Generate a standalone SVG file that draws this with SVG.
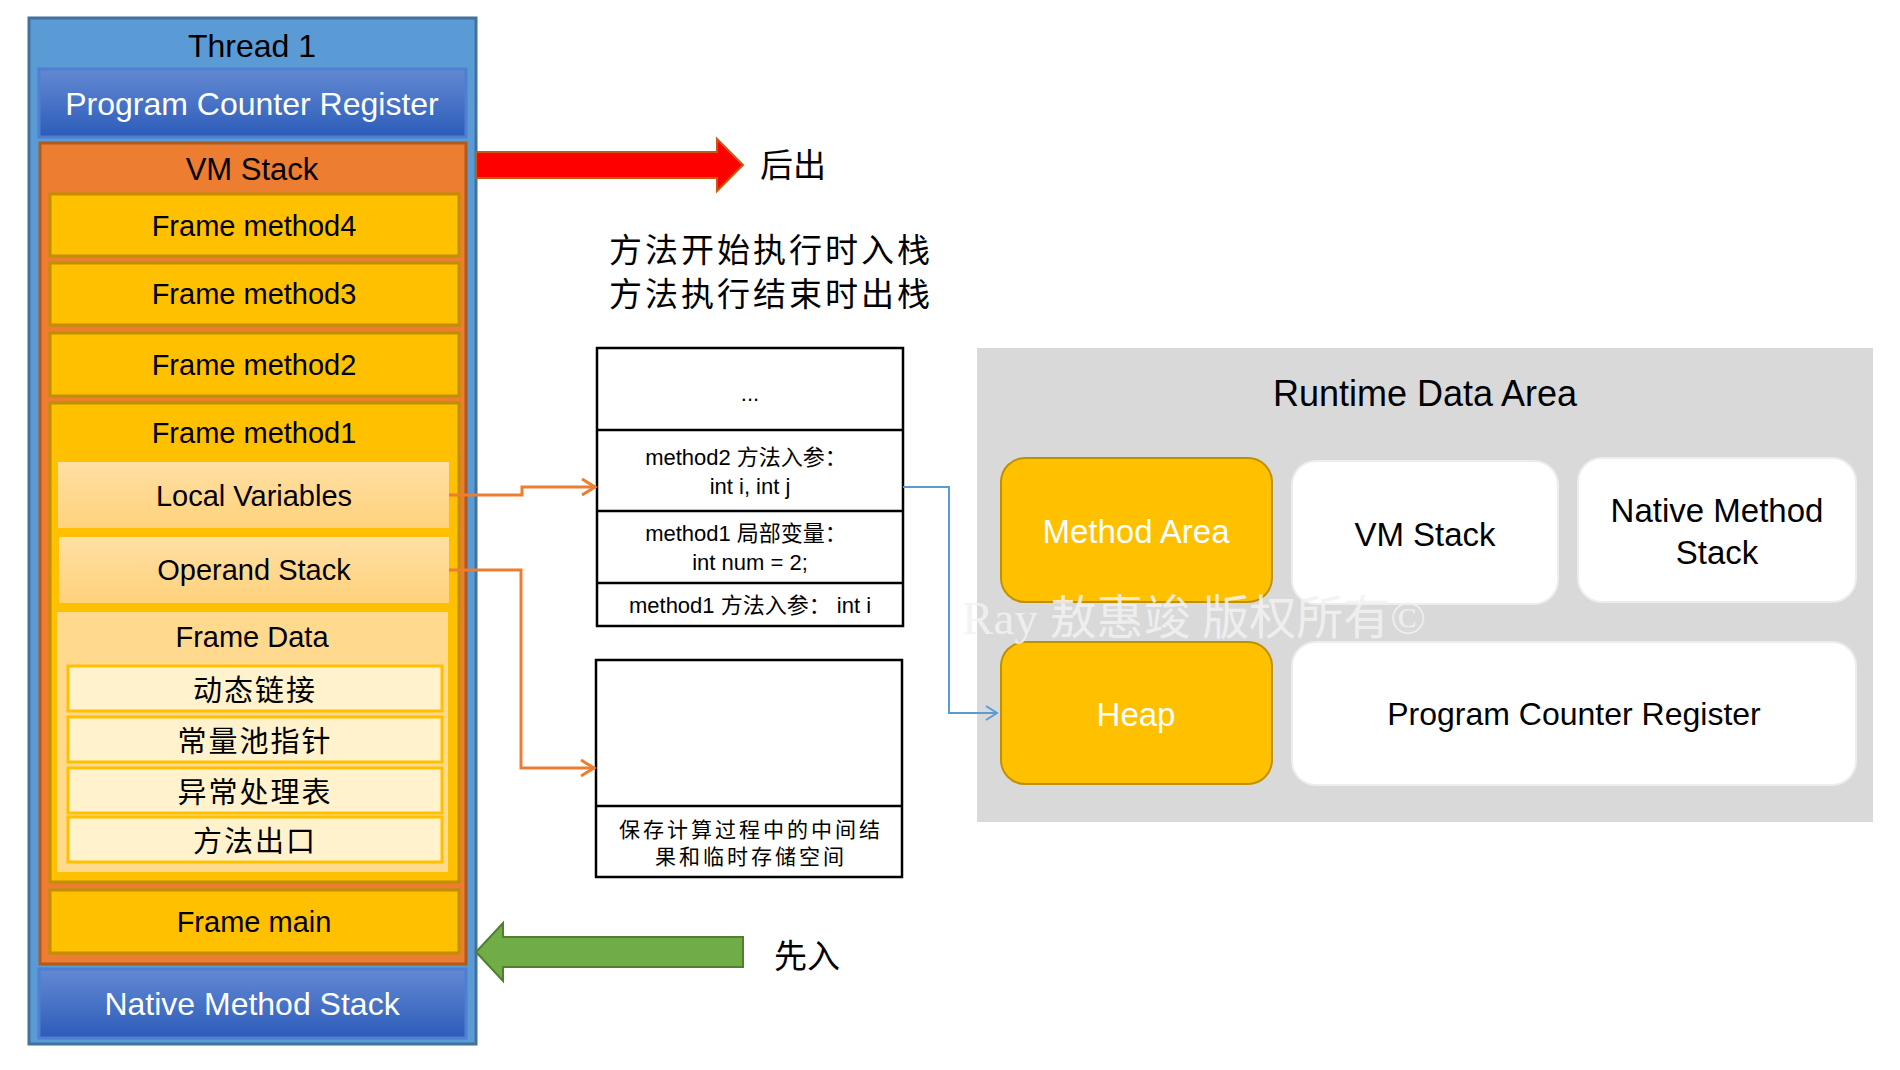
<svg xmlns="http://www.w3.org/2000/svg" width="1900" height="1070" viewBox="0 0 1900 1070">
<defs>
<linearGradient id="gBlue" x1="0" y1="0" x2="0" y2="1">
<stop offset="0" stop-color="#6389D3"/><stop offset="1" stop-color="#2C5CB9"/>
</linearGradient>
<linearGradient id="gLight" x1="0" y1="0" x2="0" y2="1">
<stop offset="0" stop-color="#FFDFA4"/><stop offset="1" stop-color="#FFD27C"/>
</linearGradient>
<marker id="arrO" markerUnits="userSpaceOnUse" markerWidth="20" markerHeight="20" refX="15" refY="9" orient="auto">
<path d="M2,1 L15,9 L2,17" fill="none" stroke="#ED7D31" stroke-width="3"/>
</marker>
<marker id="arrB" markerUnits="userSpaceOnUse" markerWidth="20" markerHeight="20" refX="14" refY="9" orient="auto">
<path d="M3,2 L14,9 L3,16" fill="none" stroke="#5B9BD5" stroke-width="2"/>
</marker>
<style>
.lat{font-family:"Liberation Sans",Arial,sans-serif;}
.cjk{font-family:"Noto Sans CJK SC",sans-serif;}
.mix{font-family:"Liberation Sans","Noto Sans CJK SC",sans-serif;}
text{text-anchor:middle;dominant-baseline:central;}
.frame{fill:#FFC000;stroke:#BF9000;stroke-width:3;}
.item{fill:#FFF2CC;stroke:#FFC000;stroke-width:3;}
.cell{fill:#FFFFFF;stroke:#000000;stroke-width:2.5;}
.rda-y{fill:#FFC000;stroke:#BF9000;stroke-width:2;}
.rda-w{fill:#FFFFFF;stroke:#EDEDED;stroke-width:2;}
.conO{fill:none;stroke:#ED7D31;stroke-width:3;}
.conB{fill:none;stroke:#5B9BD5;stroke-width:2;}
</style>
</defs>
<rect width="1900" height="1070" fill="#FFFFFF"/>

<g id="thread1">
<rect x="29" y="18" width="447" height="1026" fill="#5B9BD5" stroke="#41719C" stroke-width="3"/>
<text class="lat" x="252" y="46" font-size="32" fill="#000">Thread 1</text>
</g>
<g id="pc-register-left">
<rect x="39" y="69" width="427" height="68" fill="url(#gBlue)" stroke="#4F7FD0" stroke-width="3"/>
<text class="lat" x="252" y="104" font-size="32" fill="#FFFFFF">Program Counter Register</text>
</g>
<g id="vm-stack">
<rect x="40" y="143" width="426" height="821" fill="#ED7D31" stroke="#AE5A21" stroke-width="3"/>
<text class="lat" x="252" y="169" font-size="31" fill="#000">VM Stack</text>
</g>
<g id="frame-method4">
<rect class="frame" x="50" y="194" width="409" height="62"/>
<text class="lat" x="254" y="226" font-size="29">Frame method4</text>
</g>
<g id="frame-method3">
<rect class="frame" x="50" y="263" width="409" height="62"/>
<text class="lat" x="254" y="294" font-size="29">Frame method3</text>
</g>
<g id="frame-method2">
<rect class="frame" x="50" y="333" width="409" height="63"/>
<text class="lat" x="254" y="365" font-size="29">Frame method2</text>
</g>
<g id="frame-method1">
<rect class="frame" x="50" y="403" width="409" height="479"/>
<text class="lat" x="254" y="433" font-size="29">Frame method1</text>
</g>
<g id="local-variables">
<rect x="58" y="462" width="391" height="66" fill="url(#gLight)"/>
<text class="lat" x="254" y="496" font-size="29">Local Variables</text>
</g>
<g id="operand-stack">
<rect x="59" y="537" width="390" height="66" fill="url(#gLight)"/>
<text class="lat" x="254" y="570" font-size="29">Operand Stack</text>
</g>
<g id="frame-data">
<rect x="57" y="612" width="391" height="260" fill="#FFD98E"/>
<text class="lat" x="252" y="637" font-size="29">Frame Data</text>
</g>
<g id="dynamic-link">
<rect class="item" x="68" y="666" width="374" height="45"/>
<text class="cjk" x="255" y="688" font-size="29" letter-spacing="2">动态链接</text>
</g>
<g id="constant-pool-pointer">
<rect class="item" x="68" y="717" width="374" height="45"/>
<text class="cjk" x="255" y="739" font-size="29" letter-spacing="2">常量池指针</text>
</g>
<g id="exception-table">
<rect class="item" x="68" y="768" width="374" height="45"/>
<text class="cjk" x="255" y="790" font-size="29" letter-spacing="2">异常处理表</text>
</g>
<g id="method-exit">
<rect class="item" x="68" y="817" width="374" height="45"/>
<text class="cjk" x="255" y="839" font-size="29" letter-spacing="2">方法出口</text>
</g>
<g id="frame-main">
<rect class="frame" x="50" y="890" width="409" height="63"/>
<text class="lat" x="254" y="922" font-size="29">Frame main</text>
</g>
<g id="native-method-stack-left">
<rect x="39" y="969" width="427" height="69" fill="url(#gBlue)" stroke="#4F7FD0" stroke-width="3"/>
<text class="lat" x="252" y="1004" font-size="32" fill="#FFFFFF">Native Method Stack</text>
</g>

<g id="pop-arrow">
<path d="M476,152 L717,152 L717,139 L743,165 L717,191 L717,178 L476,178 Z" fill="#FF0000" stroke="#C55A11" stroke-width="2"/>
<text class="cjk" x="793" y="163" font-size="33">后出</text>
</g>
<g id="push-arrow">
<path d="M743,937 L503,937 L503,923 L476,952 L503,981 L503,967 L743,967 Z" fill="#70AD47" stroke="#507E32" stroke-width="2"/>
<text class="cjk" x="807" y="954" font-size="33">先入</text>
</g>

<g id="note">
<text class="cjk" x="771" y="248" font-size="33" letter-spacing="3">方法开始执行时入栈</text>
<text class="cjk" x="771" y="292" font-size="33" letter-spacing="3">方法执行结束时出栈</text>
</g>

<g id="local-variables-table">
<rect class="cell" x="597" y="348" width="306" height="278"/>
<line x1="597" y1="430" x2="903" y2="430" stroke="#000" stroke-width="2.5"/>
<line x1="597" y1="511" x2="903" y2="511" stroke="#000" stroke-width="2.5"/>
<line x1="597" y1="583" x2="903" y2="583" stroke="#000" stroke-width="2.5"/>
<text class="lat" x="750" y="393" font-size="22">...</text>
<text class="mix" x="746" y="457" font-size="22">method2 方法入参：</text>
<text class="lat" x="750" y="486" font-size="22">int i, int j</text>
<text class="mix" x="746" y="533" font-size="22">method1 局部变量：</text>
<text class="lat" x="750" y="562" font-size="22">int num = 2;</text>
<text class="mix" x="750" y="605" font-size="22">method1 方法入参： int i</text>
</g>

<g id="operand-stack-table">
<rect class="cell" x="596" y="660" width="306" height="217"/>
<line x1="596" y1="806" x2="902" y2="806" stroke="#000" stroke-width="2.5"/>
<text class="cjk" x="751" y="828" font-size="21" letter-spacing="3">保存计算过程中的中间结</text>
<text class="cjk" x="751" y="855" font-size="21" letter-spacing="3">果和临时存储空间</text>
</g>

<g id="runtime-data-area">
<rect x="977" y="348" width="896" height="474" fill="#D9D9D9"/>
<text class="lat" x="1425" y="393" font-size="36">Runtime Data Area</text>
</g>
<g id="method-area">
<rect class="rda-y" x="1001" y="458" width="271" height="144" rx="24"/>
<text class="lat" x="1136" y="531" font-size="33" fill="#FFFFFF">Method Area</text>
</g>
<g id="rda-vm-stack">
<rect class="rda-w" x="1292" y="461" width="266" height="143" rx="24"/>
<text class="lat" x="1425" y="534" font-size="33">VM Stack</text>
</g>
<g id="rda-native-method-stack">
<rect class="rda-w" x="1578" y="458" width="278" height="144" rx="24"/>
<text class="lat" x="1717" y="510" font-size="33">Native Method</text>
<text class="lat" x="1717" y="552" font-size="33">Stack</text>
</g>
<g id="heap">
<rect class="rda-y" x="1001" y="642" width="271" height="142" rx="24"/>
<text class="lat" x="1136" y="714" font-size="33" fill="#FFFFFF">Heap</text>
</g>
<g id="rda-pc-register">
<rect class="rda-w" x="1292" y="642" width="564" height="143" rx="24"/>
<text class="lat" x="1574" y="714" font-size="32">Program Counter Register</text>
</g>

<g id="connectors">
<path class="conO" d="M449,495 L522,495 L522,487 L595,487" marker-end="url(#arrO)"/>
<path class="conO" d="M449,570 L521,570 L521,768 L594,768" marker-end="url(#arrO)"/>
<path class="conB" d="M903,487 L949,487 L949,713 L997,713" marker-end="url(#arrB)"/>
</g>

<g id="watermark">
<text x="1194" y="618" font-size="47" fill="#F2F2F2" fill-opacity="0.9" font-family="Liberation Serif,Noto Sans CJK SC,serif">Ray 敖惠竣 版权所有©</text>
</g>
</svg>
